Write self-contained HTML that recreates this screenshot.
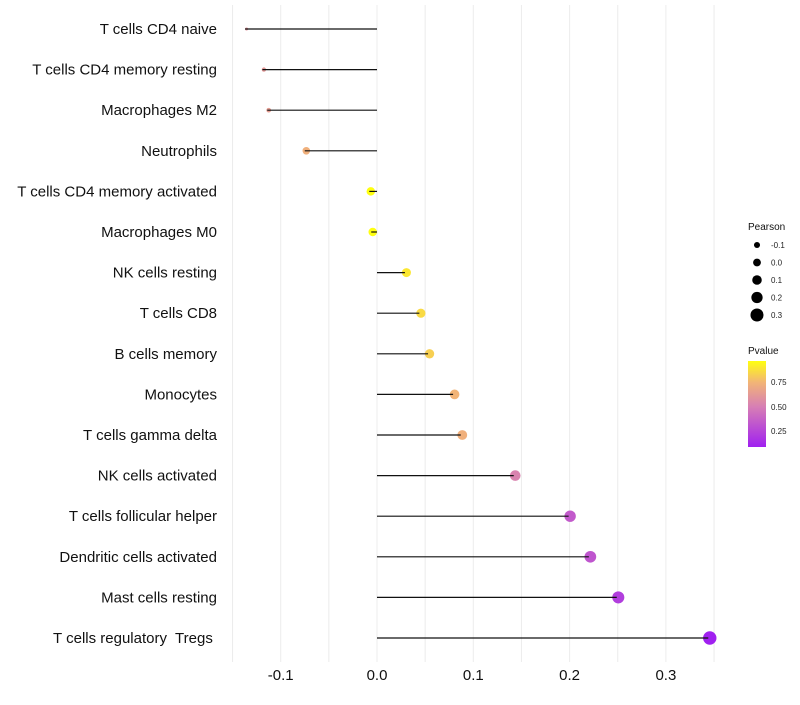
<!DOCTYPE html>
<html><head><meta charset="utf-8"><style>
body{margin:0;background:#fff;font-family:"Liberation Sans",sans-serif}
svg text{font-family:"Liberation Sans",sans-serif}
</style></head><body>
<svg id="chart" width="800" height="700" viewBox="0 0 800 700">
<defs><linearGradient id="pg" x1="0" y1="1" x2="0" y2="0">
<stop offset="0" stop-color="#a020f0"/><stop offset="0.47" stop-color="#d77fb4"/><stop offset="0.75" stop-color="#f2b477"/><stop offset="1" stop-color="#ffff10"/>
</linearGradient></defs>
<g id="grid"></g>
<g id="marks"></g>
<g id="labels"></g>
<g id="xt"></g>
<g id="legP">
<text x="748" y="230" font-size="10" fill="#111">Pearson</text>
</g>
<g>
<text x="748" y="354" font-size="10" fill="#111">Pvalue</text>
<rect x="748" y="361" width="18" height="86" fill="url(#pg)"/>
<text x="771" y="385" font-size="8" fill="#222">0.75</text>
<text x="771" y="410" font-size="8" fill="#222">0.50</text>
<text x="771" y="434" font-size="8" fill="#222">0.25</text>
</g>
</svg>
<script>
const categories=["T cells CD4 naive","T cells CD4 memory resting","Macrophages M2","Neutrophils","T cells CD4 memory activated","Macrophages M0","NK cells resting","T cells CD8","B cells memory","Monocytes","T cells gamma delta","NK cells activated","T cells follicular helper","Dendritic cells activated","Mast cells resting","T cells regulatory  Tregs "];
const pearson=[-0.137,-0.119,-0.114,-0.075,-0.008,-0.006,0.029,0.044,0.053,0.079,0.087,0.142,0.199,0.220,0.249,0.344];
const pvalues=[0.6,0.62,0.64,0.73,0.97,0.97,0.9,0.86,0.83,0.75,0.73,0.52,0.34,0.32,0.22,0.09];
const xTicks=[-0.1,0.0,0.1,0.2,0.3];
const xTickLabels=["-0.1","0.0","0.1","0.2","0.3"];
const legendVals=[-0.1,0.0,0.1,0.2,0.3];
const legendLabels=["-0.1","0.0","0.1","0.2","0.3"];
const NS="http://www.w3.org/2000/svg";
const x=v=>377+v*963;
const y=i=>29+i*40.6;
const r=v=>v<-0.075?Math.max(1.3,3.8+(v+0.075)*37):4.3+7*v;
const rl=v=>3.9+8.75*v;
const stops=[[0.09,[160,32,240]],[0.5,[215,127,180]],[0.75,[242,180,119]],[0.97,[255,255,16]]];
function col(p){if(p<=stops[0][0])return"rgb("+stops[0][1]+")";for(let k=1;k<stops.length;k++){if(p<=stops[k][0]){const t=(p-stops[k-1][0])/(stops[k][0]-stops[k-1][0]);const c=stops[k-1][1].map((a,j)=>Math.round(a+(stops[k][1][j]-a)*t));return"rgb("+c+")";}}return"rgb("+stops[3][1]+")";}
function mk(tag,attrs,parent){const e=document.createElementNS(NS,tag);for(const k in attrs)e.setAttribute(k,attrs[k]);document.getElementById(parent).appendChild(e);return e;}
for(let g=-0.15;g<=0.351;g+=0.05){const e=mk("line",{x1:x(g),x2:x(g),y1:5,y2:662,stroke:"#ececec","stroke-width":1},"grid");

}
categories.forEach((c,i)=>{
const d=mk("circle",{cx:x(pearson[i])+1.5,cy:y(i),r:r(pearson[i]),fill:col(pvalues[i])},"marks");


const l=mk("line",{x1:x(0),x2:x(pearson[i]),y1:y(i),y2:y(i),stroke:"#111","stroke-width":1.2},"marks");


const t=mk("text",{x:217,y:y(i)+5,"text-anchor":"end","font-size":15,fill:"#111","xml:space":"preserve",style:"white-space:pre"},"labels");
t.textContent=c;


});
xTicks.forEach((v,i)=>{const t=mk("text",{x:x(v),y:680,"text-anchor":"middle","font-size":15,fill:"#111"},"xt");
t.textContent=xTickLabels[i];

});
legendVals.forEach((v,i)=>{const cy=245+i*17.5;
const c=mk("circle",{cx:757,cy:cy,r:rl(v),fill:"#000"},"legP");


const t=mk("text",{x:771,y:cy+3,"font-size":8,fill:"#222"},"legP");
t.textContent=legendLabels[i];

});
</script>
</body></html>
